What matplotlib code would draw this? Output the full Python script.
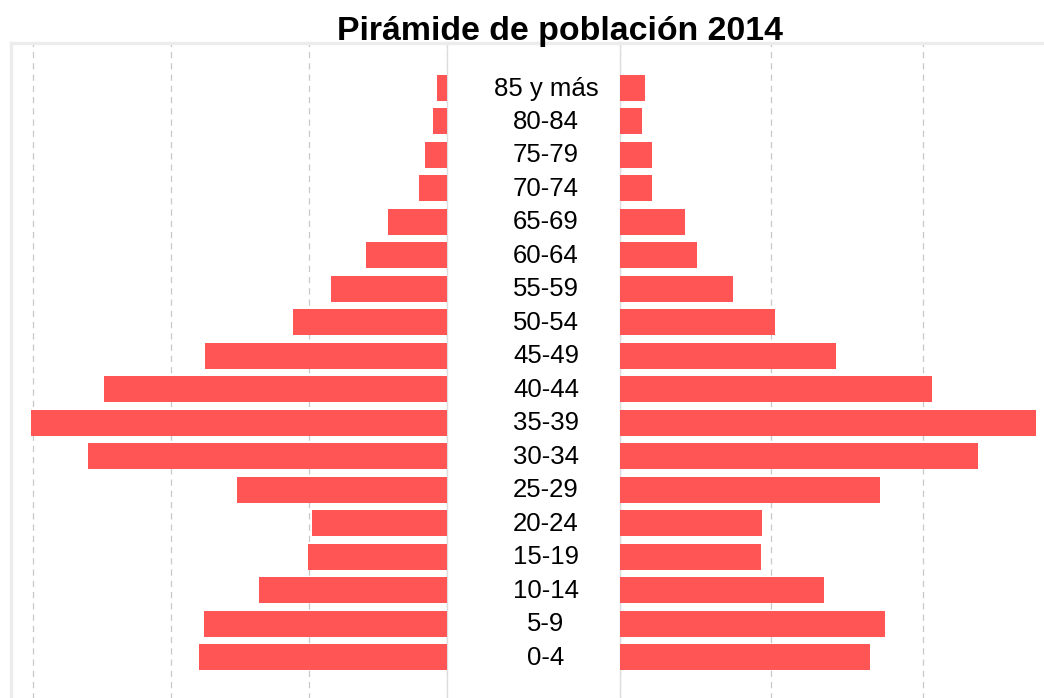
import matplotlib
matplotlib.use("Agg")
import matplotlib.pyplot as plt
import matplotlib.transforms as mtransforms

# age groups, bottom to top
grupos = ["0-4", "5-9", "10-14", "15-19", "20-24", "25-29", "30-34", "35-39",
          "40-44", "45-49", "50-54", "55-59", "60-64", "65-69", "70-74",
          "75-79", "80-84", "85 y más"]
izquierda = [1797, 1761, 1362, 1007, 978, 1522, 2601, 3014,
             2486, 1754, 1116, 841, 587, 428, 203, 159, 101, 72]
derecha = [1650, 1749, 1347, 931, 937, 1716, 2363, 2746,
           2059, 1426, 1023, 746, 508, 429, 211, 211, 145, 165]

BAR = "#ff5555"
GRID = "#c8c8c8"
FRAME = "#ececec"

plt.rcParams["font.family"] = ["Liberation Sans", "DejaVu Sans"]

fig = plt.figure(figsize=(10.44, 6.98), dpi=100)
W, H = 1044, 698

top_px, bot_px = 43, 720
ax_b = (H - bot_px) / H
ax_h = (bot_px - top_px) / H
axl = fig.add_axes([11 / W, ax_b, (447 - 11) / W, ax_h])
axr = fig.add_axes([620 / W, ax_b, 436 / W, ax_h])

y = list(range(len(grupos)))
axl.barh(y, izquierda, height=0.78, color=BAR, zorder=3)
axr.barh(y, derecha, height=0.78, color=BAR, zorder=3)

for ax in (axl, axr):
    ax.set_xticks([0, 1000, 2000, 3000])
    ax.set_yticks([])
    ax.set_ylim(-1.88, 18.34)
    ax.tick_params(left=False, bottom=False, labelleft=False, labelbottom=False)
    ax.grid(axis="x", color=GRID, linestyle=(0, (5, 4)), linewidth=0.9, zorder=0)
    ax.spines["bottom"].set_visible(False)
    ax.spines["top"].set_color(FRAME)
    ax.spines["top"].set_linewidth(2.4)
axl.set_xlim(3159, 0)
axr.set_xlim(0, 2878)

axl.spines["left"].set_color(FRAME)
axl.spines["left"].set_linewidth(2.4)
axl.spines["right"].set_color("#dddddd")
axl.spines["right"].set_linewidth(1.0)
axr.spines["left"].set_color("#dddddd")
axr.spines["left"].set_linewidth(1.0)
axr.spines["right"].set_visible(False)

# top frame line across the gap between both panels
fig.add_artist(plt.Line2D([447 / W, 620 / W], [1 - top_px / H] * 2,
                          color=FRAME, linewidth=2.4))

trans = mtransforms.blended_transform_factory(fig.transFigure, axl.transData)
for yi, g in zip(y, grupos):
    fig.text(546 / W, yi - 0.02, g, transform=trans, ha="center", va="center",
             fontsize=18.5, color="black")

fig.text(559.5 / W, 1 - 40 / H, "Pirámide de población 2014", ha="center",
         va="baseline", fontsize=24.4, fontweight="bold")

fig.savefig("out.png", dpi=100)
